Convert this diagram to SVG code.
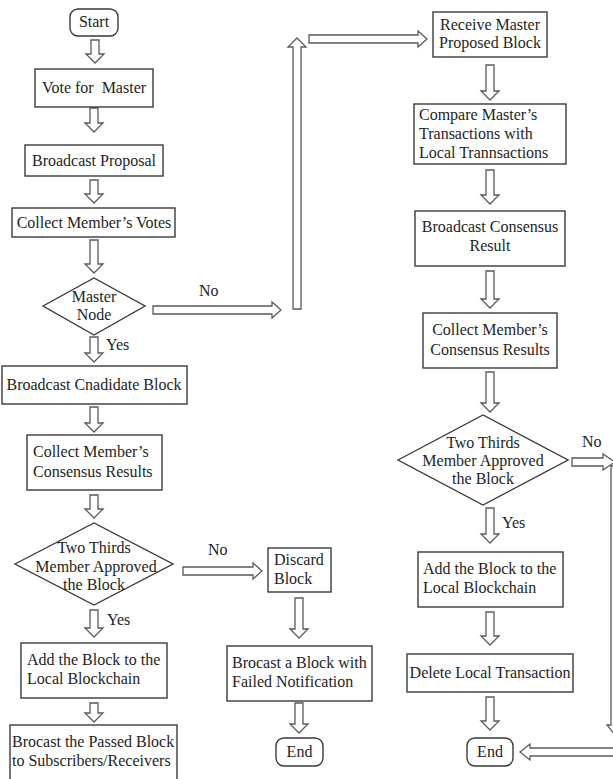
<svg xmlns="http://www.w3.org/2000/svg" width="613" height="779" viewBox="0 0 613 779">
<style>
.b{fill:#fff;stroke:#3a3a3a;stroke-width:1.4}
.a{fill:#fff;stroke:#5a5a5a;stroke-width:1.3;stroke-linejoin:miter}
text{font-family:"Liberation Serif",Tinos,"Times New Roman","DejaVu Serif",serif;font-size:16px;fill:#1e1e1e}
.c{text-anchor:middle}
</style>
<rect width="613" height="779" fill="#fff"/>
<g id="connectors">
<path class="a" d="M91,40H99V54H104L95,63L86,54H91Z"/>
<path class="a" d="M90,108H98V123H103L94,132L85,123H90Z"/>
<path class="a" d="M90,180H98V194H103L94,203L85,194H90Z"/>
<path class="a" d="M90,240H98V264H103L94,273L85,264H90Z"/>
<path class="a" d="M90,337H98V353H103L94,362L85,353H90Z"/>
<path class="a" d="M90,407H98V423H103L94,432L85,423H90Z"/>
<path class="a" d="M90,495H98V509H103L94,518L85,509H90Z"/>
<path class="a" d="M90,610H98V628H103L94,637L85,628H90Z"/>
<path class="a" d="M90,703H98V713H103L94,722L85,713H90Z"/>
<path class="a" d="M295,598H303V629H308L299,638L290,629H295Z"/>
<path class="a" d="M295,703H303V724H308L299,733L290,724H295Z"/>
<path class="a" d="M486,65H494V91H499L490,100L481,91H486Z"/>
<path class="a" d="M486,170H494V195H499L490,204L481,195H486Z"/>
<path class="a" d="M486,271H494V299H499L490,308L481,299H486Z"/>
<path class="a" d="M486,372H494V403H499L490,412L481,403H486Z"/>
<path class="a" d="M486,508H494V534H499L490,543L481,534H486Z"/>
<path class="a" d="M486,612H494V636H499L490,645L481,636H486Z"/>
<path class="a" d="M486,697H494V721H499L490,730L481,721H486Z"/>
<path class="a" d="M153,306H272V302L281,310L272,318V314H153Z"/>
<path class="a" d="M293,309V47H288L297,38L306,47H301V309Z"/>
<path class="a" d="M309,35H418V31L427,39L418,47V43H309Z"/>
<path class="a" d="M183,567H253V563L262,571L253,579V575H183Z"/>
<path class="a" d="M572,458H603V454L615,462L603,470V466H572Z"/>
<path class="a" d="M611,466V725H607L615,735L623,725H619V466Z"/>
<path class="a" d="M625,748H530V744L520,752L530,760V756H625Z"/>
</g>
<g id="start"><rect class="b" x="70" y="9" width="48" height="27" rx="8"/><text class="c" x="94" y="27">Start</text></g>
<g id="vote"><rect class="b" x="35" y="69" width="118" height="38"/><text class="c" x="94" y="93" style="white-space:pre">Vote for  Master</text></g>
<g id="bproposal"><rect class="b" x="25" y="145" width="138" height="31"/><text class="c" x="94" y="166">Broadcast Proposal</text></g>
<g id="cvotes"><rect class="b" x="12" y="208" width="163" height="29"/><text class="c" x="94" y="228">Collect Member’s Votes</text></g>
<g id="master"><polygon class="b" points="43,306 94,278 145,306 94,335"/><text class="c" x="94" y="302">Master</text><text class="c" x="94" y="320">Node</text></g>
<g id="bcand"><rect class="b" x="2" y="366" width="185" height="38"/><text class="c" x="94" y="390">Broadcast Cnadidate Block</text></g>
<g id="ccons1"><rect class="b" x="27" y="435" width="135" height="55"/><text x="33" y="457">Collect Member’s</text><text x="33" y="477">Consensus Results</text></g>
<g id="two1"><polygon class="b" points="15,564 94,523 173,564 94,605"/><text class="c" x="94" y="553">Two Thirds</text><text class="c" x="96" y="572">Member Approved</text><text class="c" x="94" y="590">the Block</text></g>
<g id="add1"><rect class="b" x="21" y="643" width="146" height="55"/><text x="27" y="665">Add the Block to the</text><text x="27" y="684">Local Blockchain</text></g>
<g id="passed"><rect class="b" x="10" y="725" width="167" height="62"/><text x="12" y="747">Brocast the Passed Block</text><text x="12" y="766">to Subscribers/Receivers</text></g>
<g id="discard"><rect class="b" x="268" y="548" width="63" height="44"/><text x="274" y="565">Discard</text><text x="274" y="584">Block</text></g>
<g id="failed"><rect class="b" x="227" y="646" width="145" height="55"/><text x="232" y="668">Brocast a Block with</text><text x="232" y="687">Failed Notification</text></g>
<g id="end1"><rect class="b" x="276" y="738" width="47" height="28" rx="8"/><text class="c" x="299.5" y="757">End</text></g>
<g id="receive"><rect class="b" x="433" y="12" width="114" height="45"/><text class="c" x="490" y="30">Receive Master</text><text class="c" x="490" y="48">Proposed Block</text></g>
<g id="compare"><rect class="b" x="414" y="104" width="152" height="60"/><text x="419" y="120">Compare Master’s</text><text x="419" y="139">Transactions with</text><text x="419" y="158">Local Trannsactions</text></g>
<g id="bcons"><rect class="b" x="415" y="211" width="150" height="55"/><text class="c" x="490" y="232">Broadcast Consensus</text><text class="c" x="490" y="251">Result</text></g>
<g id="ccons2"><rect class="b" x="423" y="313" width="134" height="55"/><text class="c" x="490" y="335">Collect Member’s</text><text class="c" x="490" y="355">Consensus Results</text></g>
<g id="two2"><polygon class="b" points="398,460 483,415 568,460 483,505"/><text class="c" x="483" y="448">Two Thirds</text><text class="c" x="483" y="466">Member Approved</text><text class="c" x="483" y="484">the Block</text></g>
<g id="add2"><rect class="b" x="418" y="552" width="145" height="55"/><text x="423" y="574">Add the Block to the</text><text x="423" y="593">Local Blockchain</text></g>
<g id="delete"><rect class="b" x="407" y="654" width="166" height="38"/><text class="c" x="490" y="678">Delete Local Transaction</text></g>
<g id="end2"><rect class="b" x="467" y="738" width="46" height="28" rx="8"/><text class="c" x="490" y="757">End</text></g>
<g id="labels">
<text x="199" y="296">No</text>
<text x="106" y="350">Yes</text>
<text x="208" y="555">No</text>
<text x="107" y="625">Yes</text>
<text x="582" y="447">No</text>
<text x="502" y="528">Yes</text>
</g>
</svg>
